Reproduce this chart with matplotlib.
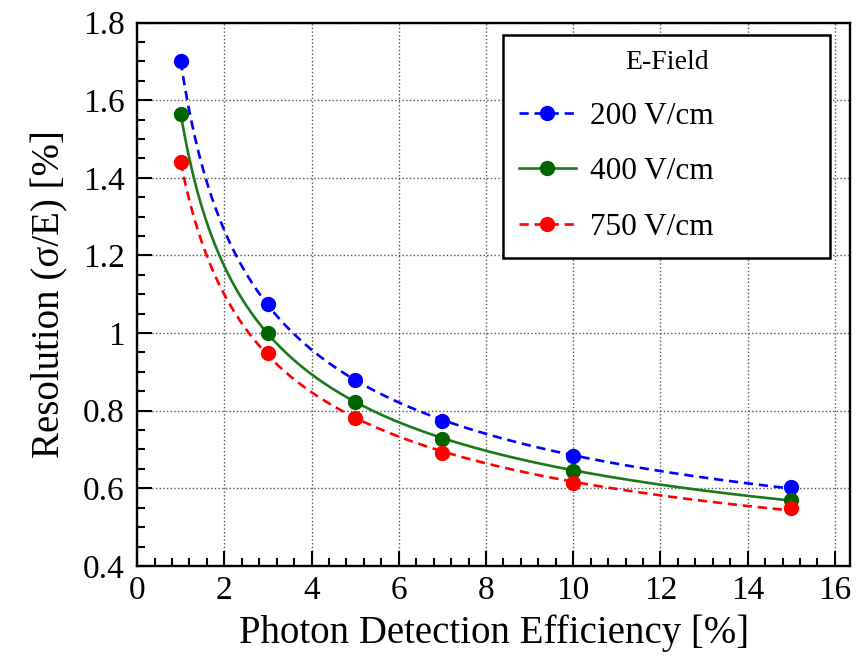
import numpy as np
import matplotlib
matplotlib.use('Agg')
import matplotlib.pyplot as plt
from matplotlib.ticker import MultipleLocator

plt.rcParams['font.family'] = ['Liberation Serif', 'DejaVu Serif']

# Data
pde = [1, 3, 5, 7, 10, 15]
res_200 = [1.70, 1.075, 0.878, 0.773, 0.683, 0.603]
res_400 = [1.565, 1.00, 0.822, 0.727, 0.645, 0.571]
res_750 = [1.44, 0.948, 0.780, 0.690, 0.613, 0.549]
labels = ['200 V/cm', '400 V/cm', '750 V/cm']
legend_title = 'E-Field'
ytick_labels = ['0.4', '0.6', '0.8', '1', '1.2', '1.4', '1.6', '1.8']

series = [
    (res_200, labels[0], '#0000ff', '#0000ff', (0, (3.5, 2.2))),
    (res_400, labels[1], '#1a7a1a', '#006400', '-'),
    (res_750, labels[2], '#ff0000', '#ff0000', (0, (3.5, 2.2))),
]

fig = plt.figure(figsize=(8.57, 6.65), dpi=100)
ax = fig.add_axes([0.16, 0.149, 0.832, 0.817])

x = np.array(pde, dtype=float)
xs = np.linspace(x.min(), x.max(), 300)
for vals, lab, lc, mc, ls in series:
    # fit y = a + b/sqrt(x) + c/x, like the fitted curves in the original
    p = np.polyfit(1 / np.sqrt(x), vals, 2)
    ax.plot(xs, np.polyval(p, 1 / np.sqrt(xs)), color=lc, lw=1.9, ls=ls, zorder=2)
    ax.plot(x, vals, 'o', color=mc, ms=10, zorder=3)
    # legend proxy
    ax.plot([], [], color=lc, lw=1.9, ls=ls, marker='o', ms=10, mfc=mc, mec=mc, label=lab)

ax.set_xlim(0, 16.35)
ax.set_ylim(0.4, 1.8)
ax.xaxis.set_major_locator(MultipleLocator(2))
ax.xaxis.set_minor_locator(MultipleLocator(0.4))
ax.yaxis.set_minor_locator(MultipleLocator(0.05))
ax.set_yticks(np.arange(0.4, 1.81, 0.2))
ax.set_yticklabels(ytick_labels)

ax.tick_params(which='both', direction='in', top=False, right=False, labelsize=24, width=1.5)
ax.tick_params(which='major', length=11)
ax.tick_params(axis='y', which='major', pad=9)
ax.tick_params(axis='x', which='major', pad=7)
ax.tick_params(which='minor', length=5.5)
for s in ax.spines.values():
    s.set_linewidth(1.7)

ax.grid(True, which='major', ls=':', color='#555555', lw=1.0)
ax.set_axisbelow(True)

ax.set_xlabel('Photon Detection Efficiency [%]', fontsize=28, labelpad=6)
ax.set_ylabel('Resolution (σ/E) [%]', fontsize=28, labelpad=10)

leg = ax.legend(title=legend_title, loc='upper left', bbox_to_anchor=(0.513, 0.578, 0.459, 0.4),
                mode='expand', fontsize=22.5, title_fontsize=20, frameon=True, fancybox=False,
                edgecolor='black', framealpha=1, handlelength=1.85, handletextpad=0.45,
                labelspacing=0.85, borderpad=0.5, borderaxespad=0)
leg.get_frame().set_linewidth(1.8)
leg._legend_box.align = 'center'

fig.savefig('out.png', dpi=100)
